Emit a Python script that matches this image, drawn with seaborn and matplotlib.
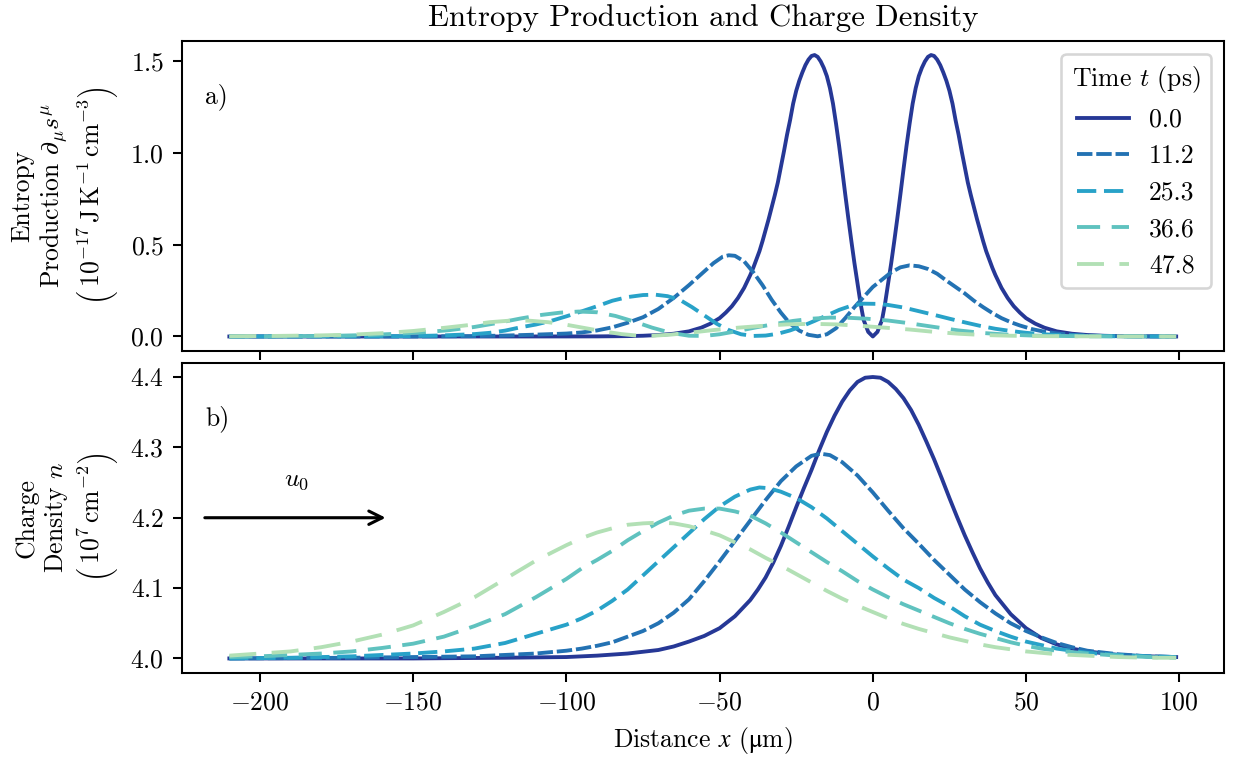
import matplotlib
matplotlib.use("Agg")
import matplotlib.pyplot as plt
import pandas as pd
import seaborn as sns

# Time labels (ps)
times = ["0.0", "11.2", "25.3", "36.6", "47.8"]
colors = ["#263896", "#2372b3", "#28a2c8", "#5fc2bf", "#b2e0b5"]
dash_styles = ["", (4, 1), (5, 2), (6, 3), (7, 4)]

# ---- panel a) entropy production ----
x_s0 = [-210, -120, -100, -90, -80, -75, -70, -65, -60, -56, -53, -50, -48, -46, -44,
        -42, -40, -39, -38, -37, -36, -35, -34, -33, -32, -31, -30, -29, -28, -27, -26,
        -25, -24, -23, -22, -21, -20, -19, -18, -17, -16, -15, -14, -13, -12, -11, -10,
        -9, -8, -7, -6, -5, -4, -3, -1.5, 0, 1.5, 3, 4, 5, 6, 7, 8, 9, 10, 11, 12, 13,
        14, 15, 16, 17, 18, 19, 20, 21, 22, 23, 24, 25, 26, 27, 28, 29, 30, 31, 32, 33,
        34, 35, 36, 37, 38, 39, 40, 42, 44, 46, 48, 50, 53, 56, 60, 65, 70, 75, 80, 90, 99]
s0 = [0.0, 0.0, 0.0002, 0.0005, 0.002, 0.004, 0.008, 0.015, 0.028, 0.048, 0.07, 0.10,
      0.13, 0.165, 0.21, 0.265, 0.335, 0.375, 0.42, 0.465, 0.52, 0.58, 0.64, 0.705, 0.77,
      0.84, 0.925, 1.01, 1.10, 1.18, 1.27, 1.34, 1.395, 1.44, 1.48, 1.51, 1.53, 1.535,
      1.525, 1.50, 1.465, 1.42, 1.355, 1.27, 1.16, 1.04, 0.91, 0.775, 0.645, 0.52, 0.40,
      0.29, 0.18, 0.09, 0.025, 0.0, 0.025, 0.09, 0.18, 0.29, 0.40, 0.52, 0.645, 0.775,
      0.91, 1.04, 1.16, 1.27, 1.355, 1.42, 1.465, 1.50, 1.525, 1.535, 1.53, 1.51, 1.48,
      1.44, 1.395, 1.34, 1.27, 1.18, 1.10, 1.01, 0.925, 0.84, 0.77, 0.705, 0.64, 0.58,
      0.52, 0.465, 0.42, 0.375, 0.335, 0.265, 0.21, 0.165, 0.13, 0.10, 0.07, 0.048, 0.028,
      0.015, 0.008, 0.004, 0.002, 0.0005, 0.0]

x_s1 = [-210, -150, -130, -120, -110, -100, -95, -90, -85, -80, -75, -70, -65, -60, -55,
        -52, -49, -47, -45, -42, -39, -36, -33, -30, -27, -24, -21, -18, -15, -12, -9,
        -6, -3, 0, 3, 6, 9, 12, 15, 18, 21, 24, 27, 30, 33, 36, 39, 42, 45, 48, 52, 56,
        60, 65, 70, 80, 90, 99]
s1 = [0.0, 0.0, 0.002, 0.005, 0.010, 0.016, 0.022, 0.033, 0.05, 0.075, 0.105, 0.15,
      0.21, 0.28, 0.355, 0.40, 0.435, 0.443, 0.44, 0.41, 0.35, 0.28, 0.20, 0.13, 0.07,
      0.032, 0.009, 0.001, 0.012, 0.045, 0.10, 0.16, 0.215, 0.27, 0.31, 0.35, 0.377,
      0.388, 0.383, 0.368, 0.342, 0.305, 0.27, 0.235, 0.195, 0.16, 0.128, 0.10, 0.078,
      0.06, 0.04, 0.026, 0.017, 0.009, 0.005, 0.0015, 0.0005, 0.0]

x_s2 = [-210, -160, -150, -140, -130, -125, -120, -115, -110, -105, -100, -95, -90, -85,
        -80, -75, -71, -67, -63, -59, -55, -51, -47, -43, -39, -35, -31, -27, -23, -19,
        -15, -11, -7, -3, 1, 5, 10, 15, 20, 25, 30, 35, 40, 45, 50, 55, 60, 70, 80, 99]
s2 = [0.0, 0.001, 0.002, 0.006, 0.013, 0.02, 0.032, 0.05, 0.065, 0.085, 0.11, 0.137,
      0.165, 0.195, 0.215, 0.226, 0.228, 0.22, 0.20, 0.16, 0.115, 0.07, 0.035, 0.012,
      0.003, 0.005, 0.015, 0.033, 0.057, 0.085, 0.115, 0.145, 0.168, 0.179, 0.178, 0.172,
      0.158, 0.138, 0.118, 0.097, 0.077, 0.058, 0.042, 0.03, 0.02, 0.013, 0.008, 0.003,
      0.001, 0.0]

x_s3 = [-210, -190, -175, -165, -155, -145, -138, -130, -122, -115, -108, -102, -96, -90,
        -84, -78, -72, -66, -60, -55, -50, -44, -38, -32, -26, -20, -14, -8, -2, 5, 12,
        20, 28, 36, 44, 52, 60, 70, 80, 99]
s3 = [0.0, 0.001, 0.004, 0.008, 0.015, 0.025, 0.035, 0.052, 0.075, 0.098, 0.118, 0.13,
      0.136, 0.132, 0.112, 0.082, 0.048, 0.02, 0.004, 0.003, 0.012, 0.03, 0.05, 0.068,
      0.085, 0.097, 0.103, 0.102, 0.097, 0.087, 0.072, 0.052, 0.033, 0.019, 0.01, 0.005,
      0.003, 0.001, 0.0005, 0.0]

x_s4 = [-210, -195, -180, -170, -160, -150, -140, -132, -125, -118, -112, -106, -100, -94,
        -88, -82, -77, -72, -66, -60, -52, -44, -36, -28, -20, -12, -4, 4, 12, 20, 28, 36,
        45, 55, 65, 80, 99]
s4 = [0.001, 0.003, 0.006, 0.01, 0.018, 0.03, 0.047, 0.062, 0.078, 0.087, 0.086, 0.078,
      0.064, 0.046, 0.028, 0.013, 0.005, 0.004, 0.01, 0.02, 0.035, 0.048, 0.058, 0.066,
      0.069, 0.066, 0.058, 0.048, 0.038, 0.025, 0.015, 0.008, 0.004, 0.002, 0.001, 0.0005,
      0.0]

# ---- panel b) charge density ----
x_n0 = [-210, -150, -120, -100, -90, -80, -70, -65, -60, -55, -50, -45, -40, -37.5, -35,
        -32.5, -30, -27.5, -25, -22.5, -20, -17.5, -15, -12.5, -10, -7.5, -5, -2.5, 0,
        2.5, 5, 7.5, 10, 12.5, 15, 17.5, 20, 22.5, 25, 27.5, 30, 32.5, 35, 37.5, 40, 45,
        50, 55, 60, 65, 70, 80, 90, 99]
n0 = [4.0, 4.0, 4.001, 4.002, 4.004, 4.007, 4.012, 4.017, 4.024, 4.032, 4.043, 4.06,
      4.083, 4.098, 4.115, 4.136, 4.16, 4.187, 4.215, 4.242, 4.268, 4.296, 4.322, 4.345,
      4.365, 4.381, 4.393, 4.399, 4.40, 4.399, 4.393, 4.383, 4.37, 4.353, 4.332, 4.308,
      4.283, 4.256, 4.228, 4.201, 4.175, 4.151, 4.128, 4.108, 4.09, 4.063, 4.043, 4.029,
      4.02, 4.014, 4.01, 4.005, 4.003, 4.002]

x_n1 = [-210, -170, -150, -130, -120, -110, -100, -95, -90, -85, -80, -75, -70, -65, -60,
        -55, -50, -45, -40, -35, -30, -25, -20, -17, -14, -10, -5, 0, 5, 10, 15, 20, 25,
        30, 35, 40, 45, 50, 55, 60, 65, 70, 80, 90, 99]
n1 = [4.0, 4.001, 4.002, 4.003, 4.005, 4.007, 4.011, 4.014, 4.018, 4.023, 4.031, 4.039,
      4.05, 4.065, 4.084, 4.11, 4.138, 4.167, 4.196, 4.225, 4.252, 4.273, 4.288, 4.291,
      4.289, 4.279, 4.26, 4.236, 4.21, 4.185, 4.163, 4.14, 4.119, 4.098, 4.08, 4.064,
      4.05, 4.039, 4.03, 4.022, 4.016, 4.011, 4.006, 4.003, 4.002]

x_n2 = [-210, -190, -170, -150, -140, -130, -120, -110, -100, -95, -90, -85, -80, -75,
        -70, -65, -60, -55, -50, -45, -40, -37, -34, -30, -25, -20, -15, -10, -5, 0, 5,
        10, 15, 20, 25, 30, 35, 40, 45, 50, 55, 60, 70, 80, 90, 99]
n2 = [4.0, 4.001, 4.003, 4.007, 4.01, 4.014, 4.022, 4.035, 4.048, 4.057, 4.068, 4.082,
      4.098, 4.118, 4.138, 4.158, 4.178, 4.198, 4.216, 4.23, 4.24, 4.243, 4.242, 4.237,
      4.228, 4.215, 4.199, 4.181, 4.163, 4.145, 4.128, 4.112, 4.10, 4.086, 4.074, 4.06,
      4.048, 4.039, 4.031, 4.024, 4.019, 4.014, 4.008, 4.005, 4.003, 4.002]

x_n3 = [-210, -200, -190, -180, -170, -160, -150, -140, -130, -120, -110, -100, -95, -90,
        -85, -80, -75, -70, -65, -60, -55, -50, -45, -40, -35, -30, -25, -20, -15, -10,
        -5, 0, 5, 10, 15, 20, 25, 30, 35, 40, 45, 50, 55, 60, 70, 80, 90, 99]
n3 = [4.002, 4.003, 4.005, 4.007, 4.01, 4.015, 4.021, 4.031, 4.046, 4.063, 4.087, 4.113,
      4.128, 4.14, 4.153, 4.168, 4.181, 4.193, 4.203, 4.21, 4.213, 4.213, 4.209, 4.203,
      4.192, 4.179, 4.165, 4.151, 4.137, 4.124, 4.11, 4.098, 4.087, 4.077, 4.068, 4.059,
      4.05, 4.042, 4.035, 4.029, 4.023, 4.018, 4.014, 4.011, 4.007, 4.004, 4.002, 4.001]

x_n4 = [-210, -200, -190, -180, -170, -160, -150, -140, -130, -120, -110, -100, -95, -90,
        -85, -80, -75, -70, -65, -60, -55, -50, -45, -40, -35, -30, -25, -20, -15, -10,
        -5, 0, 5, 10, 15, 20, 25, 30, 35, 40, 45, 50, 60, 70, 80, 90, 99]
n4 = [4.004, 4.007, 4.01, 4.016, 4.024, 4.034, 4.047, 4.066, 4.087, 4.113, 4.139, 4.161,
      4.171, 4.179, 4.185, 4.19, 4.192, 4.193, 4.192, 4.188, 4.182, 4.175, 4.165, 4.155,
      4.143, 4.132, 4.12, 4.108, 4.096, 4.085, 4.075, 4.066, 4.057, 4.049, 4.042, 4.036,
      4.03, 4.025, 4.02, 4.016, 4.013, 4.01, 4.006, 4.004, 4.002, 4.001, 4.001]

entropy_x = [x_s0, x_s1, x_s2, x_s3, x_s4]
entropy_y = [s0, s1, s2, s3, s4]
density_x = [x_n0, x_n1, x_n2, x_n3, x_n4]
density_y = [n0, n1, n2, n3, n4]


def long_form(xs_list, ys_list):
    frames = []
    for label, xs, ys in zip(times, xs_list, ys_list):
        frames.append(pd.DataFrame({"x": xs, "y": ys, "t": label}))
    return pd.concat(frames, ignore_index=True)


df_s = long_form(entropy_x, entropy_y)
df_n = long_form(density_x, density_y)

plt.rcParams["font.family"] = ["cmr10", "DejaVu Serif"]
plt.rcParams["mathtext.fontset"] = "cm"
plt.rcParams["axes.formatter.use_mathtext"] = True
plt.rcParams["font.size"] = 10
plt.rcParams["lines.linewidth"] = 1.5

fig, (ax1, ax2) = plt.subplots(2, 1, sharex=True, figsize=(1239 / 185, 760 / 185), dpi=185)
fig.subplots_adjust(left=0.1469, right=0.9875, top=0.9461, bottom=0.1151, hspace=0.04)

sns.lineplot(data=df_s, x="x", y="y", hue="t", style="t", palette=colors,
             dashes=dash_styles, estimator=None, ax=ax1)
sns.lineplot(data=df_n, x="x", y="y", hue="t", style="t", palette=colors,
             dashes=dash_styles, estimator=None, legend=False, ax=ax2)

leg = ax1.get_legend()
leg.set_title("Time $t$ (ps)")

# empty nested sub/superscripts: invisible, but deep enough for a bigger \left( \right)
tall = r"{}^{\,}_{{}^{\,}_{{}^{\,}_{{}^{\,}_{{}^{\,}_{\,}}}}}\!"
ax1.set_title("Entropy Production and Charge Density")
ax1.set_ylabel("Entropy\nProduction $\\partial_\\mu s^\\mu$\n"
               "$\\left(" + tall + "10^{-17}\\,\\mathrm{J\\,K^{-1}\\,cm^{-3}}\\right)$",
               linespacing=1.2)
ax2.set_ylabel("Charge\nDensity $n$\n$\\left(" + tall + "10^{7}\\,\\mathrm{cm^{-2}}\\right)$",
               linespacing=1.2)
ax1.set_xlabel("")
ax2.set_xlabel("Distance $x$ ($\\mathrm{\\mu}$m)", math_fontfamily="stix")
ax1.set_yticks([0.0, 0.5, 1.0, 1.5])
ax2.set_yticks([4.0, 4.1, 4.2, 4.3, 4.4])
ax2.set_xticks([-200, -150, -100, -50, 0, 50, 100])

ax1.text(0.022, 0.82, "a)", transform=ax1.transAxes, va="center")
ax2.text(0.022, 0.82, "b)", transform=ax2.transAxes, va="center")

ax2.annotate("", xy=(-159, 4.2), xytext=(-218, 4.2),
             arrowprops=dict(arrowstyle="->", color="black", lw=1.2, mutation_scale=13,
                             shrinkA=0, shrinkB=0))
ax2.text(-188, 4.254, "$u_0$", ha="center", va="center")

fig.savefig("out.png", dpi=185)
